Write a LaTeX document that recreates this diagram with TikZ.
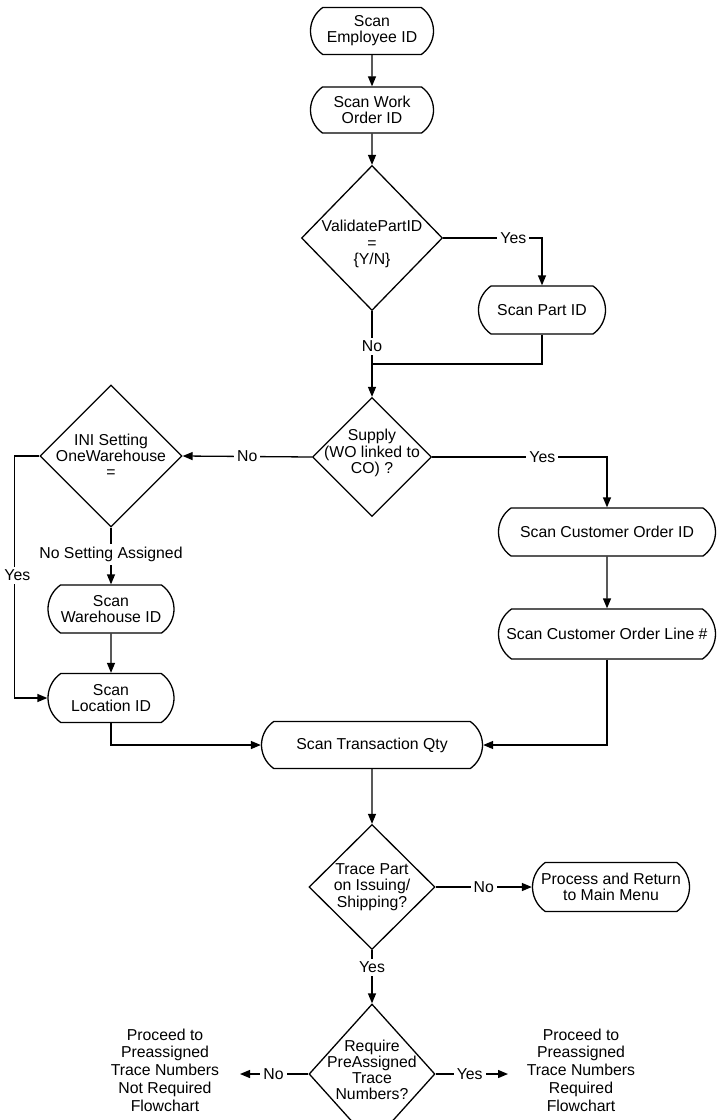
\documentclass[tikz,border=0pt]{standalone}
\usepackage{fontspec}
\setmainfont{Liberation Sans}
\usetikzlibrary{shapes.geometric,shapes.misc,arrows.meta}
\begin{document}
\begin{tikzpicture}[x=1pt,y=-1pt,
  font=\fontsize{15.8}{16.2}\selectfont,
  line width=1.3pt,
  term/.style={draw, rounded rectangle, rounded rectangle arc length=110,
    align=center, inner sep=0pt},
  dia/.style={draw, diamond, inner sep=0pt},
  lbl/.style={fill=white, inner sep=3pt},
  arr/.style={-{Triangle[length=10pt,width=8pt]}},
  txt/.style={align=center, inner sep=0pt},
  far/.style={txt, font=\fontsize{15.8}{17.7}\selectfont},
]
\useasboundingbox (0,0) rectangle (716,1120);

% terminals
\node[term, minimum width=123, minimum height=47] (emp) at (372,31) {Scan\\Employee ID};
\node[term, minimum width=123, minimum height=46] (wo) at (372,110) {Scan Work\\Order ID};
\node[term, minimum width=127, minimum height=48] (part) at (542,310) {Scan Part ID};
\node[term, minimum width=217, minimum height=48] (co) at (607,532) {Scan Customer Order ID};
\node[term, minimum width=217, minimum height=50] (col) at (607,634) {Scan Customer Order Line \#};
\node[term, minimum width=126, minimum height=48] (wh) at (111,609) {Scan\\Warehouse ID};
\node[term, minimum width=126, minimum height=49] (loc) at (111,698) {Scan\\Location ID};
\node[term, minimum width=221, minimum height=47] (qty) at (372,745) {Scan Transaction Qty};
\node[term, minimum width=157, minimum height=49] (proc) at (611,887) {Process and Return\\to Main Menu};

% decisions
\node[dia, minimum width=141, minimum height=145,
  label={[txt, yshift=-6pt]center:{ValidatePartID\\=\\\{Y/N\}}}] (val) at (372,238) {};
\node[dia, minimum width=119, minimum height=119,
  label={[txt, yshift=4pt]center:{Supply\\(WO linked to\\CO) ?}}] (sup) at (372,457) {};
\node[dia, minimum width=142, minimum height=142,
  label={[txt]center:{INI Setting\\OneWarehouse\\=}}] (ini) at (111,456) {};
\node[dia, minimum width=126, minimum height=125,
  label={[txt]center:{Trace Part\\on Issuing/\\Shipping?}}] (tr) at (372,887) {};
\node[dia, minimum width=126, minimum height=140,
  label={[txt, yshift=4pt]center:{Require\\PreAssigned\\Trace\\Numbers?}}] (req) at (372,1074) {};

% off-page destinations
\node[far] (notreq) at (165,1070) {Proceed to\\Preassigned\\Trace Numbers\\Not Required\\Flowchart};
\node[far] (isreq) at (581,1070) {Proceed to\\Preassigned\\Trace Numbers\\Required\\Flowchart};
\coordinate (notreqin) at (240,1074);
\coordinate (isreqin) at (508,1074);
\coordinate (join) at (372,364);

% connectors
\draw[arr] (emp) -- (wo);
\draw[arr] (wo) -- (val);
\draw[arr] (val.east) -| node[lbl, pos=0.355] {Yes} (part.north);
\draw[arr] (val.south) -- node[lbl, pos=0.41] {No} (sup.north);
\draw (part.south) |- (join);
\draw[arr] (sup.west) -- node[lbl] {No} (ini.east);
\draw[arr] (sup.east) -| node[lbl, pos=0.315] {Yes} (co.north);
\draw[arr] (ini.south) -- node[lbl, pos=0.47] {No Setting Assigned} (wh.north);
\draw[arr] (ini.west) -- ++(-25,0) |- node[lbl, pos=0.246, xshift=3pt] {Yes} (loc.west);
\draw[arr] (wh) -- (loc);
\draw[arr] (co) -- (col);
\draw[arr] (loc.south) |- (qty.west);
\draw[arr] (col.south) |- (qty.east);
\draw[arr] (qty) -- (tr);
\draw[arr] (tr.east) -- node[lbl] {No} (proc.west);
\draw[arr] (tr.south) -- node[lbl, pos=0.32] {Yes} (req.north);
\draw[arr] (req.west) -- node[lbl, pos=0.51] {No} (notreqin);
\draw[arr] (req.east) -- node[lbl, pos=0.47] {Yes} (isreqin);
\end{tikzpicture}
\end{document}
